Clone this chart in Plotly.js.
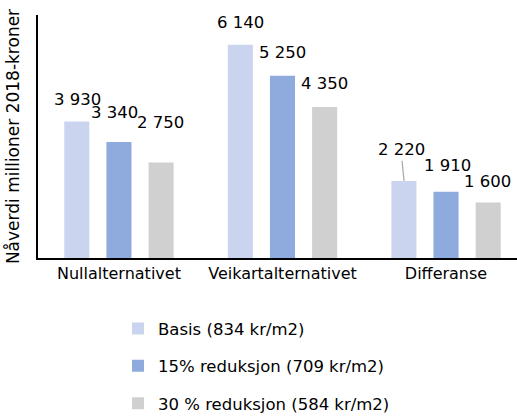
<!DOCTYPE html>
<html>
<head>
<meta charset="utf-8">
<script src="https://cdn.plot.ly/plotly-3.0.1.min.js"></script>
<style>html,body{margin:0;padding:0;background:#fff;}#chart{width:517px;height:416px;}</style>
</head>
<body>
<div id="chart"></div>
<script>
const categories = ["Nullalternativet", "Veikartalternativet", "Differanse"];
const seriesNames = ["Basis (834 kr/m2)", "15% reduksjon (709 kr/m2)", "30 % reduksjon (584 kr/m2)"];
const basis = [3930, 6140, 2220];
const red15 = [3340, 5250, 1910];
const red30 = [2750, 4350, 1600];

const colors = ["#CAD4EE", "#8FAADC", "#D0D0D0"];
const FONT = "DejaVu Sans, sans-serif";
const allSeries = [basis, red15, red30];

// label offsets (pixels) relative to bar top, layout only
const labelDy = [[-22, -22, -31], [-30, -23, -26], [-40, -23, -21]];
const labelDx = [[1, 0, -3], [-4, 0, 1], [0, 0, -1]];
const slotShift = [-42, 0, 42];

const fmt = v => String(v).replace(/\B(?=(\d{3})+(?!\d))/g, " ");

const traces = allSeries.map((vals, i) => ({
  type: "bar",
  x: categories,
  y: vals,
  name: seriesNames[i],
  legendgroup: "g" + i,
  marker: {color: colors[i]},
  hoverinfo: "skip"
}));

const annotations = [];
allSeries.forEach((vals, i) => {
  vals.forEach((v, j) => {
    const leader = (i === 0 && j === 2);
    annotations.push({
      x: categories[j], y: v, xref: "x", yref: "y",
      text: fmt(v),
      showarrow: true,
      arrowhead: 0,
      arrowwidth: 1.2,
      arrowcolor: leader ? "#A6A6A6" : "rgba(0,0,0,0)",
      ax: labelDx[i][j], ay: labelDy[i][j],
      xshift: slotShift[i],
      font: {family: FONT, size: 16.5, color: "#000"}
    });
  });
});

const layout = {
  width: 517, height: 416,
  margin: {l: 38, r: 0, t: 15, b: 158},
  paper_bgcolor: "#fff", plot_bgcolor: "#fff",
  font: {family: FONT, size: 16, color: "#000"},
  barmode: "group",
  bargap: 0.227,
  bargroupgap: 0.405,
  showlegend: true,
  legend: {
    xref: "paper", yref: "container",
    x: 0.167, xanchor: "left", y: 0.252, yanchor: "top",
    orientation: "v",
    tracegroupgap: 13,
    itemwidth: 30,
    font: {family: FONT, size: 16.5, color: "#000"},
    bgcolor: "rgba(0,0,0,0)"
  },
  xaxis: {
    type: "category",
    range: [-0.495, 2.434],
    showline: true, linecolor: "#000", linewidth: 2,
    ticks: "", showgrid: false, zeroline: false,
    tickfont: {family: FONT, size: 16, color: "#000"}
  },
  yaxis: {
    range: [0, 7000],
    showline: true, linecolor: "#000", linewidth: 2,
    showticklabels: false, ticks: "", showgrid: false, zeroline: false,
    title: {text: "Nåverdi millioner 2018-kroner", font: {family: FONT, size: 17, color: "#000"}, standoff: 12}
  },
  annotations: annotations
};

Plotly.newPlot("chart", traces, layout, {displayModeBar: false, staticPlot: true});
</script>
</body>
</html>
